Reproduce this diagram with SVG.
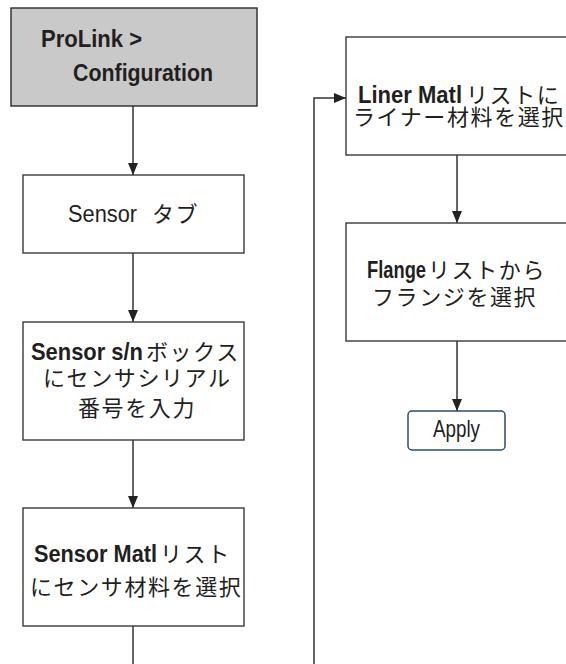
<svg xmlns="http://www.w3.org/2000/svg" width="566" height="664" viewBox="0 0 566 664">
<style>
.box{fill:#ffffff;stroke:#3a3a3a;stroke-width:1.4}
.gray{fill:#c9c9ca;stroke:#2a2a2a;stroke-width:1.4}
.btn{fill:#ffffff;stroke:#2c4a72;stroke-width:1.5}
.t{font-family:"Liberation Sans","Noto Sans CJK JP",sans-serif;font-size:24px;fill:#231f20}
.b{font-weight:bold}
.j{font-family:"Noto Sans CJK JP",sans-serif;font-size:22px;letter-spacing:1.6px}
.ln{fill:none;stroke:#333333;stroke-width:1.5}
</style>
<defs>
<marker id="ah" viewBox="0 0 12 10" refX="12" refY="5" markerWidth="12" markerHeight="10" markerUnits="userSpaceOnUse" orient="auto">
<path d="M0,0 L12,5 L0,10 z" fill="#222222"/>
</marker>
</defs>
<g id="connectors">
<line class="ln" x1="133" y1="106" x2="133" y2="175" marker-end="url(#ah)"/>
<line class="ln" x1="133" y1="253" x2="133" y2="322" marker-end="url(#ah)"/>
<line class="ln" x1="133" y1="440" x2="133" y2="508" marker-end="url(#ah)"/>
<line class="ln" x1="133" y1="626" x2="133" y2="664"/>
<polyline class="ln" points="314,664 314,98 346,98" marker-end="url(#ah)"/>
<line class="ln" x1="457" y1="155" x2="457" y2="223" marker-end="url(#ah)"/>
<line class="ln" x1="457" y1="341" x2="457" y2="411" marker-end="url(#ah)"/>
</g>
<g id="prolink">
<rect class="gray" x="11" y="8" width="246" height="98"/>
<text class="t b" x="41" y="47" textLength="101" lengthAdjust="spacingAndGlyphs">ProLink &gt;</text>
<text class="t b" x="73" y="81" textLength="140" lengthAdjust="spacingAndGlyphs">Configuration</text>
</g>
<g id="sensor-tab">
<rect class="box" x="23" y="175" width="221" height="78"/>
<text class="t" x="68" y="222" textLength="69" lengthAdjust="spacingAndGlyphs">Sensor</text>
<text class="t j" x="152" y="222">タブ</text>
</g>
<g id="sensor-sn">
<rect class="box" x="23" y="322" width="221" height="118"/>
<text class="t b" x="31" y="360" textLength="112" lengthAdjust="spacingAndGlyphs">Sensor s/n</text>
<text class="t j" x="146" y="360">ボックス</text>
<text class="t j" x="43" y="386">にセンサシリアル</text>
<text class="t j" x="78" y="416">番号を入力</text>
</g>
<g id="sensor-matl">
<rect class="box" x="23" y="508" width="221" height="118"/>
<text class="t b" x="34" y="562" textLength="123" lengthAdjust="spacingAndGlyphs">Sensor Matl</text>
<text class="t j" x="160" y="562">リスト</text>
<text class="t j" x="30" y="595">にセンサ材料を選択</text>
</g>
<g id="liner-matl">
<rect class="box" x="346" y="37" width="240" height="118"/>
<text class="t b" x="358" y="103" textLength="104" lengthAdjust="spacingAndGlyphs">Liner Matl</text>
<text class="t j" x="466" y="103">リストに</text>
<text class="t j" x="353" y="125">ライナー材料を選択</text>
</g>
<g id="flange">
<rect class="box" x="346" y="223" width="240" height="118"/>
<text class="t b" x="367" y="278" textLength="59" lengthAdjust="spacingAndGlyphs">Flange</text>
<text class="t j" x="428" y="278">リストから</text>
<text class="t j" x="372" y="305">フランジを選択</text>
</g>
<g id="apply">
<rect class="btn" x="408" y="411" width="97" height="39" rx="4"/>
<text class="t" x="433" y="437" font-size="20px" textLength="47" lengthAdjust="spacingAndGlyphs">Apply</text>
</g>
</svg>
